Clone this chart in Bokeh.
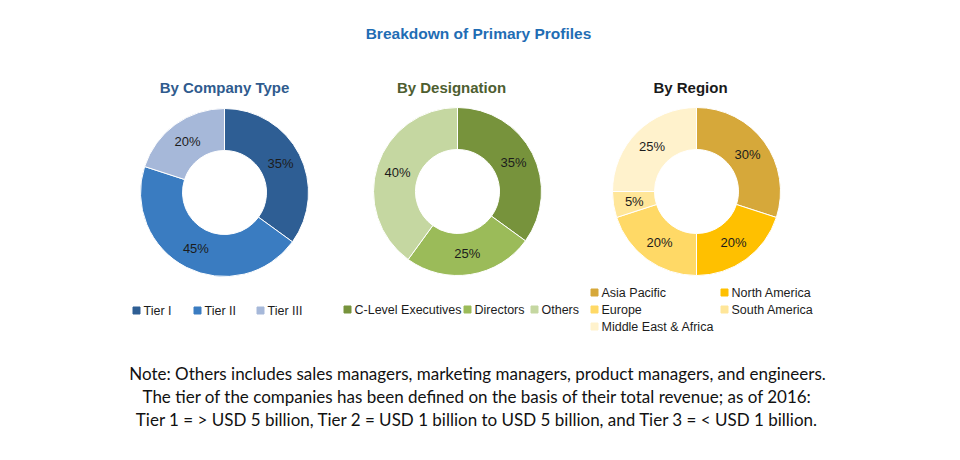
import numpy as np
from bokeh.plotting import figure
from bokeh.models import ColumnDataSource, Range1d
from bokeh.core.properties import value
from bokeh.embed import file_html
from bokeh.resources import INLINE

# ---- data ----
title_main = "Breakdown of Primary Profiles"

company_title = "By Company Type"
company_cats = ["Tier I", "Tier II", "Tier III"]
company_vals = [35, 45, 20]
company_colors = ["#2E5E94", "#3A7CC1", "#A6B8D9"]

design_title = "By Designation"
design_cats = ["C-Level Executives", "Directors", "Others"]
design_vals = [35, 25, 40]
design_colors = ["#77933C", "#9BBB59", "#C5D7A1"]

region_title = "By Region"
region_cats = ["Asia Pacific", "North America", "Europe", "South America", "Middle East & Africa"]
region_vals = [30, 20, 20, 5, 25]
region_colors = ["#D6A83A", "#FFC000", "#FFD966", "#FFE699", "#FFF2CC"]

note_lines = [
    "Note: Others includes sales managers, marketing managers, product managers, and engineers.",
    "The tier of the companies has been defined on the basis of their total revenue; as of 2016:",
    "Tier 1 = > USD 5 billion, Tier 2 = USD 1 billion to USD 5 billion, and Tier 3 = < USD 1 billion.",
]

W, H = 944, 444

def X(ix):
    return ix

def Y(iy):
    return H - iy

p = figure(width=W, height=H, output_backend="svg", toolbar_location=None,
           x_range=Range1d(0, W), y_range=Range1d(0, H), min_border=0)
p.axis.visible = False
p.grid.visible = False
p.outline_line_color = None
p.background_fill_color = "white"

LABEL_FONT = value("Liberation Sans")

def donut(cx, cy, vals, colors, r_in=42, r_out=84):
    v = np.array(vals, dtype=float)
    frac = v / v.sum()
    c1 = np.cumsum(frac)
    c0 = c1 - frac
    start = np.pi / 2 - 2 * np.pi * c0
    end = np.pi / 2 - 2 * np.pi * c1
    src = ColumnDataSource(dict(start=start, end=end, color=colors,
                                x=[X(cx)] * len(v), y=[Y(cy)] * len(v)))
    p.annular_wedge(x="x", y="y", inner_radius=r_in, outer_radius=r_out,
                    start_angle="start", end_angle="end", direction="clock",
                    fill_color="color", line_color="white", line_width=1, source=src)
    mid = 2 * np.pi * (c0 + c1) / 2
    rl = (r_in + r_out) / 2
    lx = X(cx) + rl * np.sin(mid)
    ly = Y(cy) + rl * np.cos(mid)
    labels = [f"{int(round(f * 100))}%" for f in frac]
    p.text(x=lx, y=ly, text=labels, text_align="center", text_baseline="middle",
           text_font=LABEL_FONT, text_font_size="13px", text_color="#1c1c1c")

def legend(items, colors, positions):
    for (ix, iy), name, col in zip(positions, items, colors):
        p.scatter(x=[X(ix)], y=[Y(iy)], marker="square", size=7,
                  fill_color=col, line_color=col)
        p.text(x=[X(ix) + 7], y=[Y(iy)], text=[name], text_align="left",
               text_baseline="middle", text_font=LABEL_FONT,
               text_font_size="12.5px", text_color="#1c1c1c")

# main title
p.text(x=[X(478)], y=[Y(33)], text=[title_main], text_align="center",
       text_baseline="middle", text_font=LABEL_FONT, text_font_style="bold",
       text_font_size="15.5px", text_color="#1F6DB4")

# subtitles
for ix, t, col in [(224, company_title, "#2F5B8E"), (451, design_title, "#4E5E30"),
                   (690, region_title, "#1a1a1a")]:
    p.text(x=[X(ix)], y=[Y(87)], text=[t], text_align="center",
           text_baseline="middle", text_font=LABEL_FONT, text_font_style="bold",
           text_font_size="15px", text_color=col)

donut(224, 192, company_vals, company_colors)
donut(457, 191, design_vals, design_colors)
donut(696, 191, region_vals, region_colors)

legend(company_cats, company_colors, [(136, 310), (197, 310), (260, 310)])
legend(design_cats, design_colors, [(347, 309), (467, 309), (534, 309)])
legend(region_cats, region_colors,
       [(594, 292), (724, 292), (594, 309), (724, 309), (594, 326)])

for iy, line in zip([373, 396, 419], note_lines):
    p.text(x=[X(477)], y=[Y(iy)], text=[line], text_align="center",
           text_baseline="middle", text_font=value("Lato"),
           text_font_size="17px", text_color="#111111")

open("out.html", "w").write(file_html(p, INLINE))
